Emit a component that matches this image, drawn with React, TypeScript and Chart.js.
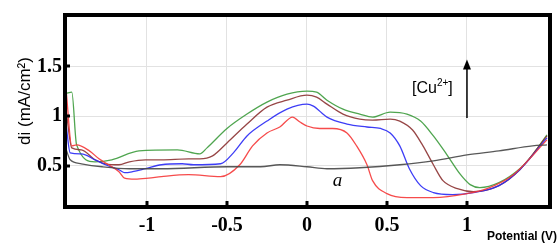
import React, { useEffect, useRef } from "react";
import { Chart, registerables } from "chart.js";

Chart.register(...registerables);

const xTicks = [-1, -0.5, 0, 0.5, 1];
const yTicks = [0.5, 1, 1.5];

const greenX = [-1.505, -1.47, -1.44, -1.325, -1.22, -1.05, -0.81, -0.67, -0.625, -0.5, -0.375, -0.25, -0.125, 0, 0.06, 0.125, 0.225, 0.33, 0.41, 0.52, 0.625, 0.71, 0.79, 0.875, 0.96, 1.02, 1.08, 1.2, 1.33, 1.41, 1.5];
const greenY = [1.23, 1.24, 0.71, 0.54, 0.56, 0.65, 0.66, 0.62, 0.68, 0.875, 1.02, 1.14, 1.22, 1.25, 1.24, 1.16, 1.07, 1.02, 0.99, 1.04, 1.02, 0.95, 0.8, 0.61, 0.41, 0.31, 0.28, 0.33, 0.47, 0.61, 0.81];

const brownX = [-1.505, -1.47, -1.41, -1.325, -1.26, -1.175, -1.11, -1.01, -0.91, -0.74, -0.67, -0.59, -0.5, -0.375, -0.25, -0.125, 0, 0.06, 0.125, 0.225, 0.33, 0.41, 0.52, 0.58, 0.66, 0.725, 0.79, 0.85, 0.94, 1.04, 1.2, 1.33, 1.5];
const brownY = [1.05, 0.68, 0.66, 0.56, 0.52, 0.51, 0.54, 0.56, 0.56, 0.57, 0.57, 0.6, 0.73, 0.92, 1.09, 1.16, 1.21, 1.19, 1.12, 1.02, 0.97, 0.96, 0.97, 0.95, 0.86, 0.7, 0.51, 0.35, 0.27, 0.24, 0.3, 0.46, 0.8];

const blueX = [-1.505, -1.48, -1.41, -1.325, -1.26, -1.175, -1.14, -1.09, -1.01, -0.91, -0.78, -0.71, -0.54, -0.46, -0.375, -0.25, -0.125, 0, 0.04, 0.125, 0.25, 0.375, 0.46, 0.52, 0.58, 0.64, 0.71, 0.79, 0.91, 1.04, 1.2, 1.33, 1.5];
const blueY = [0.9, 0.63, 0.62, 0.56, 0.51, 0.46, 0.43, 0.44, 0.47, 0.51, 0.52, 0.51, 0.52, 0.63, 0.8, 0.95, 1.07, 1.12, 1.1, 0.99, 0.92, 0.89, 0.875, 0.83, 0.7, 0.47, 0.3, 0.23, 0.21, 0.23, 0.3, 0.46, 0.78];

const redX = [-1.505, -1.47, -1.44, -1.36, -1.3, -1.24, -1.175, -1.14, -1.075, -0.99, -0.91, -0.74, -0.54, -0.42, -0.34, -0.25, -0.17, -0.09, -0.044, 0, 0.08, 0.16, 0.25, 0.31, 0.375, 0.41, 0.5, 0.625, 0.79, 1.0, 1.125, 1.29, 1.5];
const redY = [1.25, 0.7, 0.71, 0.65, 0.57, 0.51, 0.44, 0.375, 0.365, 0.375, 0.39, 0.41, 0.39, 0.51, 0.7, 0.83, 0.89, 0.99, 0.94, 0.9, 0.875, 0.875, 0.83, 0.7, 0.51, 0.35, 0.22, 0.18, 0.18, 0.22, 0.27, 0.41, 0.76];

const grayX = [-1.505, -1.48, -1.41, -1.28, -1.11, -0.91, -0.5, -0.29, -0.17, 0, 0.125, 0.33, 0.58, 0.79, 1.0, 1.2, 1.41, 1.5];
const grayY = [0.66, 0.56, 0.52, 0.49, 0.47, 0.47, 0.49, 0.49, 0.51, 0.49, 0.47, 0.48, 0.51, 0.55, 0.61, 0.65, 0.7, 0.71];

const pts = (xs: number[], ys: number[]) => xs.map((x, i) => ({ x, y: ys[i] }));

const overlay = {
  id: "overlay",
  afterDraw(chart: any) {
    const { ctx, chartArea: a, scales } = chart;
    const xs = scales.x;
    const ys = scales.y;
    ctx.save();
    // frame
    ctx.strokeStyle = "#000";
    ctx.lineWidth = 4;
    ctx.strokeRect(a.left, a.top, a.right - a.left, a.bottom - a.top);
    // inward tick marks
    ctx.lineWidth = 3;
    for (const v of xTicks) {
      const px = Math.round(xs.getPixelForValue(v));
      ctx.beginPath();
      ctx.moveTo(px, a.bottom);
      ctx.lineTo(px, a.bottom - 6);
      ctx.stroke();
    }
    for (const v of yTicks) {
      const py = Math.round(ys.getPixelForValue(v));
      ctx.beginPath();
      ctx.moveTo(a.left, py);
      ctx.lineTo(a.left + 5, py);
      ctx.stroke();
    }
    // y title
    ctx.fillStyle = "#000";
    ctx.save();
    ctx.translate(25, 101);
    ctx.rotate(-Math.PI / 2);
    ctx.font = "17px 'Liberation Sans', Arial, sans-serif";
    ctx.textAlign = "center";
    ctx.textBaseline = "middle";
    ctx.fillText("di (mA/cm²)", 0, 0);
    ctx.restore();
    // x title
    ctx.font = "bold 12px 'Liberation Sans', Arial, sans-serif";
    ctx.textAlign = "right";
    ctx.textBaseline = "middle";
    ctx.fillText("Potential (V)", 557, 237);
    // [Cu2+]
    ctx.textAlign = "left";
    ctx.textBaseline = "alphabetic";
    ctx.font = "16px 'Liberation Sans', Arial, sans-serif";
    let cx = 412;
    const base = 93;
    ctx.fillText("[Cu", cx, base);
    cx += ctx.measureText("[Cu").width;
    ctx.font = "10px 'Liberation Sans', Arial, sans-serif";
    ctx.fillText("2+", cx, base - 7);
    cx += ctx.measureText("2+").width;
    ctx.font = "16px 'Liberation Sans', Arial, sans-serif";
    ctx.fillText("]", cx, base);
    // arrow
    const ax = xs.getPixelForValue(1);
    ctx.lineWidth = 1.5;
    ctx.beginPath();
    ctx.moveTo(ax, ys.getPixelForValue(0.98));
    ctx.lineTo(ax, ys.getPixelForValue(1.5));
    ctx.stroke();
    const tip = ys.getPixelForValue(1.57);
    ctx.beginPath();
    ctx.moveTo(ax, tip);
    ctx.lineTo(ax - 4, tip + 10);
    ctx.lineTo(ax + 4, tip + 10);
    ctx.closePath();
    ctx.fill();
    // label a
    ctx.font = "italic 19px 'Liberation Serif', 'Times New Roman', serif";
    ctx.textAlign = "center";
    ctx.textBaseline = "middle";
    ctx.fillText("a", xs.getPixelForValue(0.19), ys.getPixelForValue(0.35));
    ctx.restore();
  },
};

export default function App() {
  const ref = useRef<HTMLCanvasElement>(null);
  useEffect(() => {
    const line = (data: any, color: string) => ({
      data,
      borderColor: color,
      backgroundColor: color,
      borderWidth: 1.3,
      pointRadius: 0,
      showLine: true,
      cubicInterpolationMode: "monotone" as const,
      fill: false,
    });
    const tickFont = { family: "'Liberation Serif', 'Times New Roman', serif", size: 20, weight: "bold" as const };
    const chart = new Chart(ref.current!, {
      type: "scatter",
      data: {
        datasets: [
          line(pts(grayX, grayY), "rgba(70,70,70,0.9)"),
          line(pts(redX, redY), "rgba(245,55,55,0.9)"),
          line(pts(blueX, blueY), "rgba(40,40,245,0.9)"),
          line(pts(brownX, brownY), "rgba(140,50,50,0.9)"),
          line(pts(greenX, greenY), "rgba(60,155,60,0.9)"),
        ],
      },
      options: {
        animation: false,
        responsive: false,
        maintainAspectRatio: false,
        layout: { padding: { top: 7, right: 10, left: 0, bottom: 0 } },
        plugins: { legend: { display: false }, tooltip: { enabled: false } },
        scales: {
          x: {
            type: "linear",
            min: -1.5125,
            max: 1.519,
            afterFit: (s: any) => { s.height = 38; },
            afterBuildTicks: (s: any) => { s.ticks = xTicks.map((v) => ({ value: v })); },
            ticks: { color: "#000", font: tickFont, padding: 7, maxRotation: 0, autoSkip: false, callback: (v: any) => String(v) },
            grid: { color: "#e2e2e2", lineWidth: 1, drawTicks: false },
            border: { display: false },
          },
          y: {
            type: "linear",
            min: 0.085,
            max: 2.017,
            afterFit: (s: any) => { s.width = 65; },
            afterBuildTicks: (s: any) => { s.ticks = yTicks.map((v) => ({ value: v })); },
            ticks: { color: "#000", font: tickFont, padding: 3, autoSkip: false, callback: (v: any) => String(v) },
            grid: { color: "#e2e2e2", lineWidth: 1, drawTicks: false },
            border: { display: false },
          },
        },
      },
      plugins: [overlay],
    });
    return () => chart.destroy();
  }, []);
  return (
    <div style={{ position: "fixed", left: 0, top: 0, width: 560, height: 245, background: "#fff" }}>
      <canvas ref={ref} width={560} height={245} style={{ width: 560, height: 245 }} />
    </div>
  );
}
